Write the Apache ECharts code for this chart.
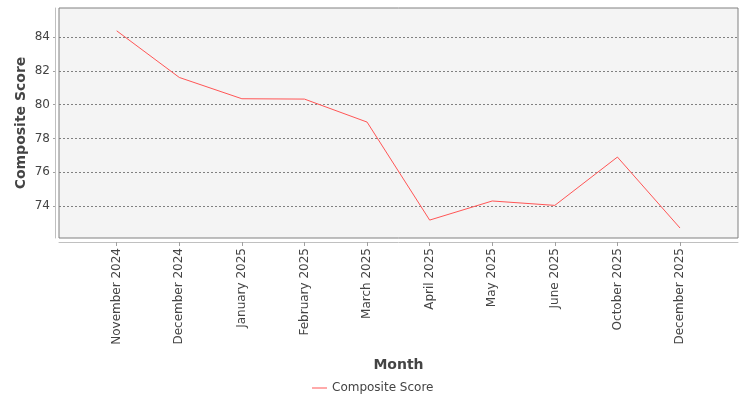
<!DOCTYPE html>
<html>
<head>
<meta charset="utf-8">
<script src="https://cdn.jsdelivr.net/npm/echarts@6/dist/echarts.min.js"></script>
<style>
  html, body { margin: 0; padding: 0; background: #fff; }
  #main { width: 750px; height: 400px; }
</style>
</head>
<body>
<div id="main"></div>
<script>
// data
const months = ['November 2024', 'December 2024', 'January 2025', 'February 2025', 'March 2025',
  'April 2025', 'May 2025', 'June 2025', 'October 2025', 'December 2025'];
const scores = [84.37, 81.61, 80.35, 80.33, 78.97, 73.17, 74.30, 74.04, 76.90, 72.70];
const yTicks = [74, 76, 78, 80, 82, 84];
const seriesName = 'Composite Score';

const font = 'DejaVu Sans';
const yMin = 72.11, yMax = 85.72;

let myChart = echarts.init(document.getElementById('main'));
let option = {
  animation: false,
  textStyle: { fontFamily: font },
  grid: [
    // plot box with background, y axis and gridlines
    { left: 59, top: 8, width: 679, height: 230, show: true, backgroundColor: '#f4f4f4',
      borderColor: '#808080', borderWidth: 1 },
    // data area (categories inset like the original)
    { left: 116.7, top: 8, width: 563.3, height: 230 }
  ],
  legend: {
    data: [{ name: seriesName, icon: 'rect' }],
    left: 307,
    top: 377,
    itemWidth: 15,
    itemHeight: 1,
    itemGap: 5,
    textStyle: { fontFamily: font, fontSize: 12, color: '#444' }
  },
  xAxis: [
    {
      gridIndex: 0, type: 'category', data: [''], offset: 4,
      name: 'Month', nameLocation: 'middle', nameGap: 116,
      nameTextStyle: { fontFamily: font, fontSize: 14, fontWeight: 'bold', color: '#444' },
      axisLine: { show: true, lineStyle: { color: '#c0c0c0' } },
      axisTick: { show: false }, axisLabel: { show: false }, splitLine: { show: false }
    },
    {
      gridIndex: 1, type: 'category', data: months, boundaryGap: false, offset: 4,
      axisLine: { show: false },
      axisTick: { show: true, length: 4, lineStyle: { color: '#a0a0a0' } },
      axisLabel: { rotate: 90, margin: 6, fontFamily: font, fontSize: 12, color: '#444' },
      splitLine: { show: false }
    }
  ],
  yAxis: [
    {
      gridIndex: 0, type: 'value', min: yMin, max: yMax, splitNumber: 6, offset: 4,
      name: 'Composite Score', nameLocation: 'middle', nameGap: 27, nameMoveOverlap: false,
      nameTextStyle: { fontFamily: font, fontSize: 14, fontWeight: 'bold', color: '#444' },
      axisLine: { show: true, lineStyle: { color: '#c0c0c0' } },
      axisTick: { show: true, length: 2, customValues: yTicks, lineStyle: { color: '#a0a0a0' } },
      axisLabel: { margin: 5, fontFamily: font, fontSize: 12, color: '#444', customValues: yTicks },
      splitLine: { show: true, lineStyle: { color: '#808080', type: [2, 2], width: 1 } }
    },
    {
      gridIndex: 1, type: 'value', min: yMin, max: yMax,
      axisLine: { show: false }, axisTick: { show: false }, axisLabel: { show: false },
      splitLine: { show: false }
    }
  ],
  series: [
    {
      name: seriesName,
      type: 'line',
      xAxisIndex: 1,
      yAxisIndex: 1,
      data: scores,
      symbol: 'none',
      lineStyle: { color: '#ff5555', width: 1 },
      itemStyle: { color: '#ff5555' }
    }
  ]
};
myChart.setOption(option);
</script>
</body>
</html>
